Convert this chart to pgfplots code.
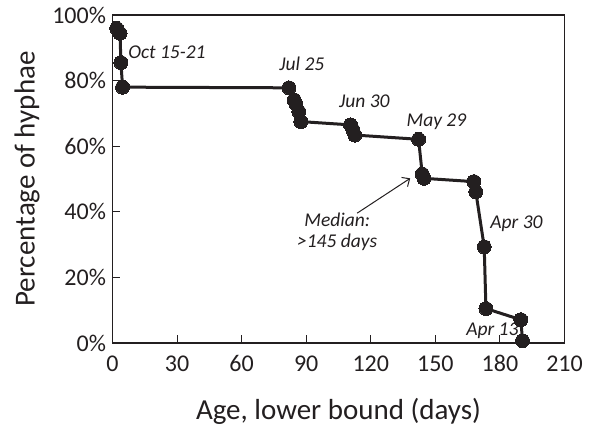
\documentclass[border=0pt]{standalone}
\usepackage{pgfplots}
\pgfplotsset{compat=1.18}
\usetikzlibrary{arrows.meta}
\usepackage{fontspec}
\setmainfont{Carlito}
\definecolor{ink}{RGB}{35,31,32}

\begin{document}
\begin{tikzpicture}
\begin{axis}[
    name=ax,
    scale only axis,
    width=452bp, height=328bp,
    xmin=0, xmax=210, ymin=0, ymax=100,
    xtick={0,30,...,210},
    ytick={0,20,...,100},
    yticklabel={\pgfmathprintnumber{\tick}\%},
    tick align=inside,
    xtick pos=bottom, ytick pos=left,
    major tick length=8bp,
    axis line style={line width=1.2bp, ink},
    tick style={line width=1bp, ink},
    /pgf/number format/assume math mode=true,
    ticklabel style={font=\fontsize{24bp}{26bp}\selectfont, text=ink},
    xticklabel style={yshift=-9bp},
    yticklabel style={xshift=-3bp},
    xlabel={Age, lower bound (days)},
    ylabel={Percentage of hyphae},
    label style={font=\fontsize{29bp}{32bp}\selectfont, text=ink},
    xlabel style={at={(axis description cs:0.5,-0.207)}, anchor=center},
    ylabel style={at={(axis description cs:-0.189,0.5)}, anchor=center},
    clip=false,
]
\addplot[ink, line width=3bp, mark=*, mark size=7bp, mark options={fill=ink, draw=ink, line width=0pt}]
coordinates {
(1.95,95.9) (3.5,94.4) (3.9,85.5) (4.7,78.0) (82.0,77.8) (84.4,74.1)
(85.2,72.9) (86.6,70.5) (87.5,67.5) (110.6,66.5) (111.7,65.0) (112.6,63.4)
(142.2,62.1) (143.9,51.5) (144.7,50.2) (167.9,49.2) (168.8,46.1) (172.7,29.3)
(173.5,10.5) (189.7,7.1) (190.5,0.7)
};
\begin{scope}[every node/.style={font=\fontsize{19.5bp}{21bp}\selectfont\itshape, text=ink}]
\node at (axis cs:25.3,88.7) {Oct 15-21};
\node at (axis cs:88,85) {Jul 25};
\node at (axis cs:117,73.7) {Jun 30};
\node at (axis cs:150.5,67.4) {May 29};
\node[align=center] at (axis cs:104.4,34) {Median:\\[0bp]>145 days};
\node at (axis cs:187.7,36.3) {Apr 30};
\node at (axis cs:176.5,3.6) {Apr 13};
\end{scope}
\draw[-{Straight Barb[length=6bp,width=11bp]}, ink, line width=1bp] (axis cs:113.7,39.6) -- (axis cs:138.3,50.2);
\end{axis}
\pgfresetboundingbox
\path ([xshift=-112.5bp,yshift=-83bp]ax.south west) rectangle ([xshift=28.5bp,yshift=15bp]ax.north east);
\end{tikzpicture}
\end{document}
